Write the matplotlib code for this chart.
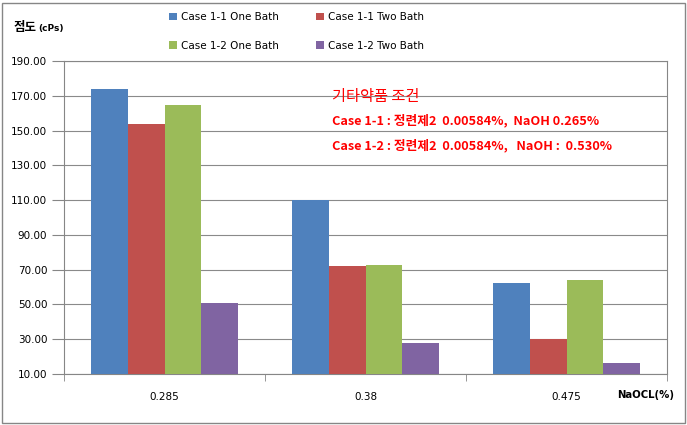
import numpy as np
import matplotlib.pyplot as plt
from matplotlib.patches import Rectangle

# data
categories = ["0.285", "0.38", "0.475"]
series_names = ["Case 1-1 One Bath", "Case 1-1 Two Bath",
                "Case 1-2 One Bath", "Case 1-2 Two Bath"]
one_bath_11 = [174.0, 110.0, 62.3]
two_bath_11 = [154.0, 72.1, 30.1]
one_bath_12 = [164.7, 72.7, 64.0]
two_bath_12 = [50.8, 27.8, 16.3]
y_ticks = [10, 30, 50, 70, 90, 110, 130, 150, 170, 190]

colours = ["#4F81BD", "#C0504D", "#9BBB59", "#8064A2"]
values = [one_bath_11, two_bath_11, one_bath_12, two_bath_12]

plt.rcParams['font.family'] = ['DejaVu Sans', 'Noto Sans CJK KR']
kr = ['Noto Sans CJK KR', 'DejaVu Sans']

fig = plt.figure(figsize=(6.87, 4.25), dpi=100)
ax = fig.add_axes([64 / 687, 1 - 374 / 425, 603 / 687, 313 / 425])

# outer chart border
fig.patches.append(Rectangle((2 / 687, 2 / 425), 683 / 687, 420 / 425,
                             transform=fig.transFigure, fill=False,
                             edgecolor="#868686", linewidth=1.0))

n = len(series_names)
bar_w = 1 / (n + 1.5)
x = np.arange(len(categories))
bars = []
for i in range(n):
    offs = (i - (n - 1) / 2) * bar_w
    b = ax.bar(x + offs, np.array(values[i]) - 10, bottom=10, width=bar_w,
               color=colours[i], label=series_names[i], zorder=3)
    bars.append(b)

ax.set_xlim(-0.5, len(categories) - 0.5)
ax.set_ylim(10, 190)
ax.set_yticks(y_ticks)
ax.set_yticklabels(["%.2f" % v for v in y_ticks], fontsize=7.5)
ax.yaxis.grid(True, color="#8a8a8a", linewidth=0.8, zorder=0)
ax.tick_params(axis="y", length=9, color="#868686", pad=3)

ax.set_xticks(x)
ax.set_xticklabels(categories, fontsize=7.5)
ax.set_xticks(np.arange(len(categories) + 1) - 0.5, minor=True)
ax.tick_params(axis="x", which="major", length=0, pad=13)
ax.tick_params(axis="x", which="minor", length=5, color="#868686")

for side in ["left", "bottom", "top", "right"]:
    ax.spines[side].set_color("#868686")

# axis titles
fig.text(14 / 687, 1 - 28 / 425, "점도", family=kr, fontsize=9,
         fontweight="bold", va="center")
fig.text(38 / 687, 1 - 29 / 425, "(cPs)", fontsize=6.5, fontweight="bold",
         va="center")
fig.text(617 / 687, 1 - 395 / 425, "NaOCL(%)", fontsize=7.3,
         fontweight="bold", va="center")

# legend, rows: Case 1-1 on top, Case 1-2 below
order = [0, 2, 1, 3]
fig.legend([bars[k] for k in order], [series_names[k] for k in order],
           loc="upper left", bbox_to_anchor=(160 / 687, 1 - 3 / 425),
           ncol=2, frameon=False, fontsize=7.5, handlelength=0.7,
           handleheight=0.7, columnspacing=3.6, labelspacing=1.75,
           handletextpad=0.4)

# red annotation
ax.text(332 / 687, 1 - 96 / 425, "기타약품 조건", transform=fig.transFigure,
        family=kr, fontsize=11, color="#FF0000", va="center")
ax.text(332 / 687, 1 - 121 / 425, "Case 1-1 : 정련제2  0.00584%,  NaOH 0.265%",
        transform=fig.transFigure, family=kr, fontsize=9.2, color="#FF0000",
        fontweight="bold", va="center")
ax.text(332 / 687, 1 - 146 / 425, "Case 1-2 : 정련제2  0.00584%,   NaOH :  0.530%",
        transform=fig.transFigure, family=kr, fontsize=9.2, color="#FF0000",
        fontweight="bold", va="center")

fig.savefig("out.png", dpi=100)
